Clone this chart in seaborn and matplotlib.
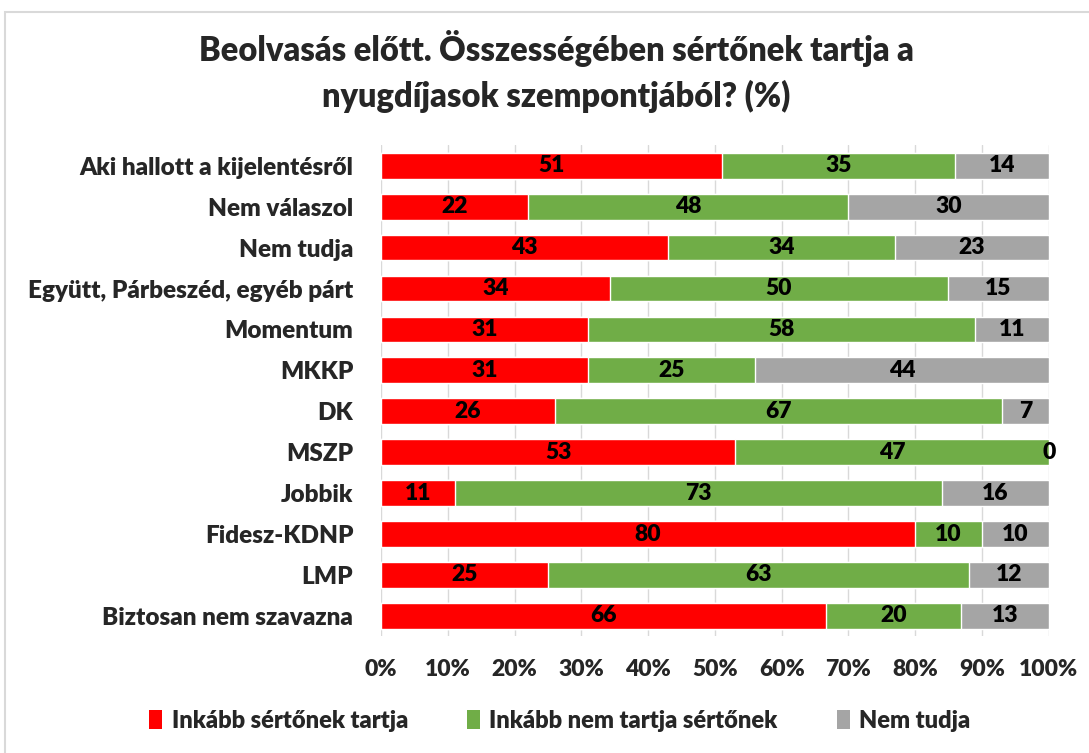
import numpy as np
import pandas as pd
import matplotlib
matplotlib.use('Agg')
import matplotlib.pyplot as plt
import seaborn as sns
from matplotlib.patches import Rectangle, Patch

# adatok a grafikonrol
kategoriak = ['Aki hallott a kijelentésről', 'Nem válaszol', 'Nem tudja',
              'Együtt, Párbeszéd, egyéb párt', 'Momentum', 'MKKP', 'DK', 'MSZP',
              'Jobbik', 'Fidesz-KDNP', 'LMP', 'Biztosan nem szavazna']
sertonek = [51, 22, 43, 34, 31, 31, 26, 53, 11, 80, 25, 66]
nem_sertonek = [35, 48, 34, 50, 58, 25, 67, 47, 73, 10, 63, 20]
nem_tudja = [14, 30, 23, 15, 11, 44, 7, 0, 16, 10, 12, 13]
sorozatok = ['Inkább sértőnek tartja', 'Inkább nem tartja sértőnek', 'Nem tudja']
szinek = ['#FF0000', '#70AD47', '#A5A5A5']

sns.set_theme(style='white')
plt.rcParams['font.family'] = ['Lato', 'DejaVu Sans']
plt.rcParams['font.weight'] = 'heavy'

df = pd.DataFrame({'kat': kategoriak, 's1': sertonek, 's2': nem_sertonek, 's3': nem_tudja})
ossz = df[['s1', 's2', 's3']].sum(axis=1)
# 100%-ra normalizalva, mint az Excelben
df['c1'] = df['s1'] / ossz * 100
df['c2'] = (df['s1'] + df['s2']) / ossz * 100
df['c3'] = 100.0

fig = plt.figure(figsize=(10.89, 7.53), dpi=100)
ax = fig.add_axes([0.350, 0.155, 0.613, 0.652])

# keret
fig.patches.append(Rectangle((5 / 1089, -0.1), 1.2, 1.1 - 12 / 753, transform=fig.transFigure,
                             fill=False, edgecolor='#D9D9D9', linewidth=1.5))

for col, szin in zip(['c3', 'c2', 'c1'], szinek[::-1]):
    sns.barplot(data=df, x=col, y='kat', color=szin, width=0.63, ax=ax,
                saturation=1, orient='h', zorder=3)

# cimkek a szegmensek kozepen
for i, row in df.iterrows():
    starts = [0, row['c1'], row['c2']]
    ends = [row['c1'], row['c2'], row['c3']]
    vals = [row['s1'], row['s2'], row['s3']]
    for a, b, v in zip(starts, ends, vals):
        ax.text((a + b) / 2, i, str(v), ha='center', va='center', fontsize=16.5,
                fontweight='heavy', color='black', zorder=5)

ax.set_xlim(0, 100)
ax.set_ylim(11.5, -0.5)
ax.set_xticks(np.arange(0, 101, 10))
ax.set_xticklabels([f'{t}%' for t in range(0, 101, 10)])
ax.grid(axis='x', color='#D9D9D9', linewidth=1, zorder=0)
ax.set_axisbelow(True)
for s in ax.spines.values():
    s.set_visible(False)
ax.set_xlabel('')
ax.set_ylabel('')
ax.tick_params(axis='x', labelsize=16.5, pad=16, length=0)
ax.tick_params(axis='y', labelsize=17.5, pad=20, length=0)
for lab in ax.get_xticklabels() + ax.get_yticklabels():
    lab.set_fontweight('heavy')

fig.text(0.511, 0.905, 'Beolvasás előtt. Összességében sértőnek tartja a\nnyugdíjasok szempontjából? (%)',
         ha='center', va='center', fontsize=23.5, fontweight='heavy', linespacing=1.45)

kezek = [Patch(facecolor=c, edgecolor='none') for c in szinek]
fig.legend(kezek, sorozatok, loc='center', bbox_to_anchor=(0.514, 0.043), ncol=3, frameon=False,
           fontsize=17, handlelength=0.55, handleheight=0.9, handletextpad=0.4, columnspacing=2.5)

fig.savefig('out.png', dpi=100)
